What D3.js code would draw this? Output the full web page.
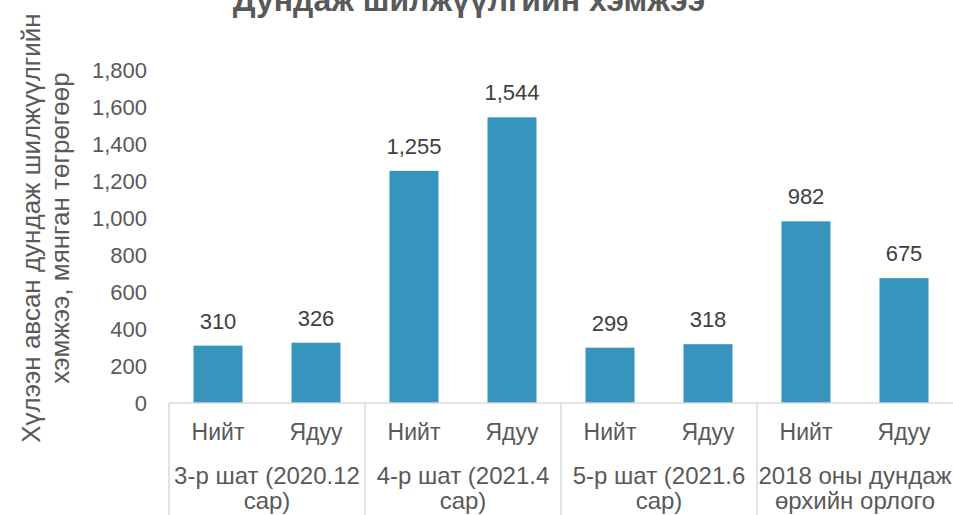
<!DOCTYPE html>
<html>
<head>
<meta charset="utf-8">
<script src="https://cdn.jsdelivr.net/npm/d3@7"></script>
<style>
  body { margin: 0; background: #fff; }
  svg { display: block; font-family: "Liberation Sans", Arial, sans-serif; }
</style>
</head>
<body>
<svg id="chart" width="953" height="515"></svg>
<script>
// data
var groups = ["3-р шат (2020.12 сар)", "4-р шат (2021.4 сар)", "5-р шат (2021.6 сар)", "2018 оны дундаж өрхийн орлого"];
var groupLines = [["3-р шат (2020.12", "сар)"], ["4-р шат (2021.4", "сар)"], ["5-р шат (2021.6", "сар)"], ["2018 оны дундаж", "өрхийн орлого"]];
var subCats = ["Нийт", "Ядуу"];
var values = [310, 326, 1255, 1544, 299, 318, 982, 675];
var yTicks = [0, 200, 400, 600, 800, 1000, 1200, 1400, 1600, 1800];

var svg = d3.select("#chart");
var width = 953, height = 515;
var margin = {top: 70, right: 0, bottom: 112, left: 169};
var plotW = width - margin.left - margin.right;
var baseY = height - margin.bottom;

var rows = [];
groups.forEach(function(g, gi) {
  subCats.forEach(function(s, si) {
    rows.push({group: g, gi: gi, sub: s, key: gi + "|" + s, value: values[gi * 2 + si]});
  });
});

var x = d3.scaleBand()
  .domain(rows.map(d => d.key))
  .range([margin.left, margin.left + plotW])
  .paddingInner(0.5)
  .paddingOuter(0.25);

var y = d3.scaleLinear()
  .domain([0, 1800])
  .range([baseY, margin.top]);

var textCol = "#595959";

// title (cropped at top in the original)
svg.append("text")
  .attr("x", 469)
  .attr("y", 11)
  .attr("text-anchor", "middle")
  .attr("font-size", 32)
  .attr("font-weight", "bold")
  .attr("fill", textCol)
  .text("Дундаж шилжүүлгийн хэмжээ");

// y axis labels
var yAxis = d3.axisLeft(y)
  .tickValues(yTicks)
  .tickSize(0)
  .tickPadding(0)
  .tickFormat(d3.format(","));

var gy = svg.append("g")
  .attr("transform", "translate(147,0)")
  .call(yAxis);
gy.select(".domain").remove();
gy.selectAll("text")
  .attr("font-size", 22)
  .attr("fill", textCol)
  .attr("font-family", "Liberation Sans, Arial, sans-serif");

// y title
var yTitle = svg.append("text")
  .attr("transform", "translate(0,228) rotate(-90)")
  .attr("text-anchor", "middle")
  .attr("font-size", 26)
  .attr("fill", textCol);
yTitle.append("tspan").attr("x", 0).attr("y", 40).text("Хүлээн авсан дундаж шилжүүлгийн");
yTitle.append("tspan").attr("x", 0).attr("y", 69).text("хэмжээ, мянган төгрөгөөр");

// bars
svg.selectAll("rect.bar")
  .data(rows)
  .enter().append("rect")
  .attr("class", "bar")
  .attr("x", d => x(d.key))
  .attr("y", d => y(d.value))
  .attr("width", x.bandwidth())
  .attr("height", d => baseY - y(d.value))
  .attr("fill", "#3795bd");

// value labels
svg.selectAll("text.val")
  .data(rows)
  .enter().append("text")
  .attr("class", "val")
  .attr("x", d => x(d.key) + x.bandwidth() / 2)
  .attr("y", d => y(d.value) - 17)
  .attr("text-anchor", "middle")
  .attr("font-size", 22)
  .attr("fill", "#404040")
  .text(d => d3.format(",")(d.value));

// category axis
var lineCol = "#d9d9d9";
svg.append("line")
  .attr("x1", margin.left).attr("x2", margin.left + plotW)
  .attr("y1", baseY).attr("y2", baseY)
  .attr("stroke", lineCol).attr("stroke-width", 1.5);

var groupW = plotW / groups.length;
for (var i = 0; i < groups.length; i++) {
  svg.append("line")
    .attr("x1", margin.left + i * groupW).attr("x2", margin.left + i * groupW)
    .attr("y1", baseY).attr("y2", height)
    .attr("stroke", lineCol).attr("stroke-width", 1.5);
}

svg.selectAll("text.sub")
  .data(rows)
  .enter().append("text")
  .attr("class", "sub")
  .attr("x", d => x(d.key) + x.bandwidth() / 2)
  .attr("y", baseY + 37)
  .attr("text-anchor", "middle")
  .attr("font-size", 23)
  .attr("fill", textCol)
  .text(d => d.sub);

groupLines.forEach(function(lines, gi) {
  var cx = margin.left + (gi + 0.5) * groupW;
  var t = svg.append("text")
    .attr("text-anchor", "middle")
    .attr("font-size", 24)
    .attr("fill", textCol);
  lines.forEach(function(l, li) {
    t.append("tspan").attr("x", cx).attr("y", baseY + 81 + li * 25).text(l);
  });
});
</script>
</body>
</html>
